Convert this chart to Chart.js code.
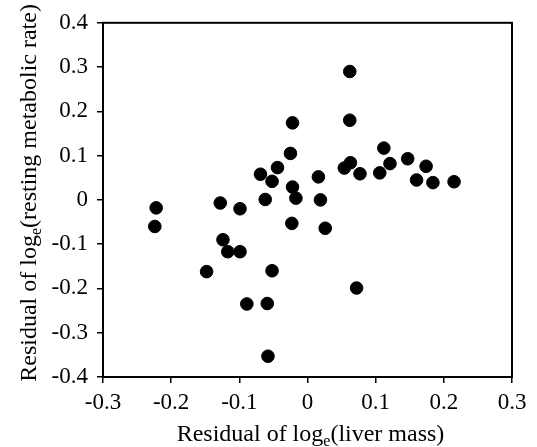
<!DOCTYPE html>
<html>
<head>
<meta charset="utf-8">
<script src="https://cdn.jsdelivr.net/npm/chart.js@4"></script>
<style>
  html, body { margin: 0; padding: 0; background: #fff; }
  #wrap { width: 537px; height: 447px; }
</style>
</head>
<body>
<div id="wrap"><canvas id="chart"></canvas></div>
<script>
// residuals
const liverResidual = [
  -0.222, -0.224, -0.148, -0.128, -0.124, -0.117, -0.099, -0.099, -0.089, -0.069,
  -0.062, -0.059, -0.058, -0.052, -0.052, -0.044, -0.025, -0.022, -0.022, -0.023,
  -0.017, 0.016, 0.019, 0.026, 0.054, 0.062, 0.062, 0.063, 0.077, 0.072,
  0.106, 0.112, 0.121, 0.147, 0.160, 0.174, 0.184, 0.215
];
const rmrResidual = [
  -0.018, -0.060, -0.162, -0.007, -0.090, -0.117, -0.117, -0.020, -0.235, 0.058,
  0.001, -0.234, -0.353, 0.042, -0.160, 0.073, 0.105, 0.174, 0.029, -0.053,
  0.004, 0.052, 0.000, -0.064, 0.072, 0.290, 0.180, 0.084, 0.059, -0.199,
  0.061, 0.117, 0.082, 0.093, 0.045, 0.076, 0.039, 0.041
];
const xTicks = [-0.3, -0.2, -0.1, 0, 0.1, 0.2, 0.3];
const yTicks = [-0.4, -0.3, -0.2, -0.1, 0, 0.1, 0.2, 0.3, 0.4];

const FONT = '"Liberation Serif", "Times New Roman", serif';

// axis titles with a subscript "e"
const titlePlugin = {
  id: 'titles',
  afterDraw(chart) {
    const { ctx, chartArea: a } = chart;
    const big = `24px ${FONT}`, small = `16px ${FONT}`;
    const parts = (pre, post) => {
      ctx.font = big;
      const w1 = ctx.measureText(pre).width;
      const w3 = ctx.measureText(post).width;
      ctx.font = small;
      const w2 = ctx.measureText('e').width;
      return { w1, w2, w3, total: w1 + w2 + w3 };
    };
    const draw = (pre, post, p) => {
      let x = -p.total / 2;
      ctx.font = big; ctx.fillText(pre, x, 0); x += p.w1;
      ctx.font = small; ctx.fillText('e', x, 5); x += p.w2;
      ctx.font = big; ctx.fillText(post, x, 0);
    };
    ctx.save();
    ctx.fillStyle = '#000';
    ctx.textBaseline = 'alphabetic';
    ctx.textAlign = 'left';

    const xp = parts('Residual of log', '(liver mass)');
    ctx.save();
    ctx.translate((a.left + a.right) / 2 + 3, 441);
    draw('Residual of log', '(liver mass)', xp);
    ctx.restore();

    const yp = parts('Residual of log', '(resting metabolic rate)');
    ctx.save();
    ctx.translate(36, (a.top + a.bottom) / 2 - 7);
    ctx.rotate(-Math.PI / 2);
    draw('Residual of log', '(resting metabolic rate)', yp);
    ctx.restore();

    // frame on top and right
    ctx.strokeStyle = '#000';
    ctx.lineWidth = 2;
    ctx.strokeRect(a.left, a.top, a.right - a.left, a.bottom - a.top);
    ctx.restore();
  }
};

new Chart(document.getElementById('chart'), {
  type: 'scatter',
  data: {
    datasets: [{
      data: liverResidual.map((x, i) => ({ x, y: rmrResidual[i] })),
      backgroundColor: '#000',
      borderColor: '#000',
      pointRadius: 6.3,
      pointHoverRadius: 6.3,
    }],
  },
  options: {
    responsive: true,
    maintainAspectRatio: false,
    animation: false,
    layout: { padding: { top: 21, right: 25, left: 0, bottom: 0 } },
    plugins: { legend: { display: false }, tooltip: { enabled: false } },
    scales: {
      x: {
        min: -0.3, max: 0.3,
        afterBuildTicks: (s) => { s.ticks = xTicks.map(v => ({ value: v })); },
        afterFit: (s) => { s.height = 70; },
        grid: { drawOnChartArea: false, drawTicks: true, tickLength: 6, color: '#000', lineWidth: 1.5 },
        border: { display: true, color: '#000', width: 2 },
        ticks: {
          color: '#000', padding: 6, maxRotation: 0,
          font: { family: FONT, size: 23 },
          callback: (v) => String(Math.round(v * 10) / 10),
        },
      },
      y: {
        min: -0.4, max: 0.4,
        afterBuildTicks: (s) => { s.ticks = yTicks.map(v => ({ value: v })); },
        afterFit: (s) => { s.width = 103; },
        grid: { drawOnChartArea: false, drawTicks: true, tickLength: 6, color: '#000', lineWidth: 1.5 },
        border: { display: true, color: '#000', width: 2 },
        ticks: {
          color: '#000', padding: 9,
          font: { family: FONT, size: 23 },
          callback: (v) => String(Math.round(v * 10) / 10),
        },
      },
    },
  },
  plugins: [titlePlugin],
});
</script>
</body>
</html>
